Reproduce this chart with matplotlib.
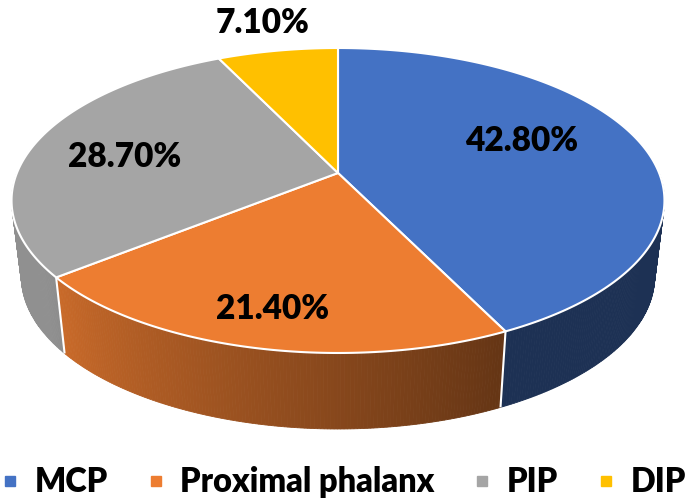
import numpy as np
import matplotlib
matplotlib.use('Agg')
import matplotlib.pyplot as plt
from matplotlib.patches import Polygon
from matplotlib.lines import Line2D
from matplotlib.colors import to_rgb

# ---- data ----
categories = ['MCP', 'Proximal phalanx', 'PIP', 'DIP']
values = [42.8, 21.4, 28.7, 7.1]
value_labels = ['42.80%', '21.40%', '28.70%', '7.10%']
colors = ['#4472C4', '#ED7D31', '#A5A5A5', '#FFC000']

# ---- layout / style ----
label_radius = [0.6, 0.8, 0.7, 1.3]
label_dy = [-15, 0, 4, 0]
FONT = 'Lato'
FS = 24
LFS = 23.5

CX, CY0, Q, K, C = 338.0, 173.0, -116.34, 0.1803, 321.1
DEPTH = 76.0
SHRINK = 0.97


def proj(r, theta_deg, bottom=False):
    t = np.radians(theta_deg)
    u = r * np.sin(t)
    v = r * np.cos(t)
    den = 1 + K * v
    x = CX + C * u / den
    y = (CY0 + Q * v) / den
    if bottom:
        x = CX + SHRINK * (x - CX)
        y = y + DEPTH
    return x, y


def shade(theta):
    return 0.43 + 0.44 * np.clip((theta - 155) / 80.0, 0, 1)


fig = plt.figure(figsize=(6.85, 5.01), dpi=100)
ax = fig.add_axes([0, 0, 1, 1])
ax.set_xlim(0, 685)
ax.set_ylim(501, 0)
ax.axis('off')

total = sum(values)
bounds = np.concatenate([[0], np.cumsum(values) / total * 360.0])

# side walls
for i in range(len(values)):
    a0, a1 = max(bounds[i], 90.0), min(bounds[i + 1], 270.0)
    if a1 <= a0:
        continue
    base = np.array(to_rgb(colors[i]))
    steps = np.linspace(a0, a1, max(2, int((a1 - a0) / 0.5) + 1))
    for s0, s1 in zip(steps[:-1], steps[1:]):
        xt0, yt0 = proj(1, s0)
        xt1, yt1 = proj(1, s1)
        xb1, yb1 = proj(1, s1, True)
        xb0, yb0 = proj(1, s0, True)
        col = np.clip(base * shade(0.5 * (s0 + s1)), 0, 1)
        ax.add_patch(Polygon([(xt0, yt0), (xt1, yt1), (xb1, yb1), (xb0, yb0)],
                             closed=True, facecolor=col, edgecolor=col,
                             linewidth=0.6, zorder=1))

# white vertical edges on walls
for b in bounds[1:-1]:
    if 90 < b < 270:
        x0, y0 = proj(1, b)
        x1, y1 = proj(1, b, True)
        ax.plot([x0, x1], [y0, y1], color='white', lw=1.5, zorder=2,
                solid_capstyle='butt')

# top faces
for i in range(len(values)):
    th = np.linspace(bounds[i], bounds[i + 1], 200)
    xs, ys = proj(1, th)
    pts = [proj(0, 0)] + list(zip(xs, ys))
    ax.add_patch(Polygon(pts, closed=True, facecolor=colors[i],
                         edgecolor='white', linewidth=1.5, zorder=3,
                         joinstyle='round'))

# value labels
for i in range(len(values)):
    mid = 0.5 * (bounds[i] + bounds[i + 1])
    x, y = proj(label_radius[i], mid)
    y = y + label_dy[i]
    ax.text(x, y + 12, value_labels[i], ha='center', va='baseline',
            fontsize=FS, fontweight='heavy', family=FONT, color='black',
            zorder=5)

# legend
handles = [Line2D([], [], marker='s', linestyle='', color=c, markersize=7.5)
           for c in colors]
leg = ax.legend(handles, categories, loc='center', bbox_to_anchor=(0.502, 0.037),
                bbox_transform=fig.transFigure, ncol=4, frameon=False,
                prop={'family': FONT, 'weight': 'heavy', 'size': LFS},
                handlelength=0.5, handletextpad=0.5, columnspacing=1.22,
                borderaxespad=0, borderpad=0)

fig.savefig('out.png', dpi=100)
